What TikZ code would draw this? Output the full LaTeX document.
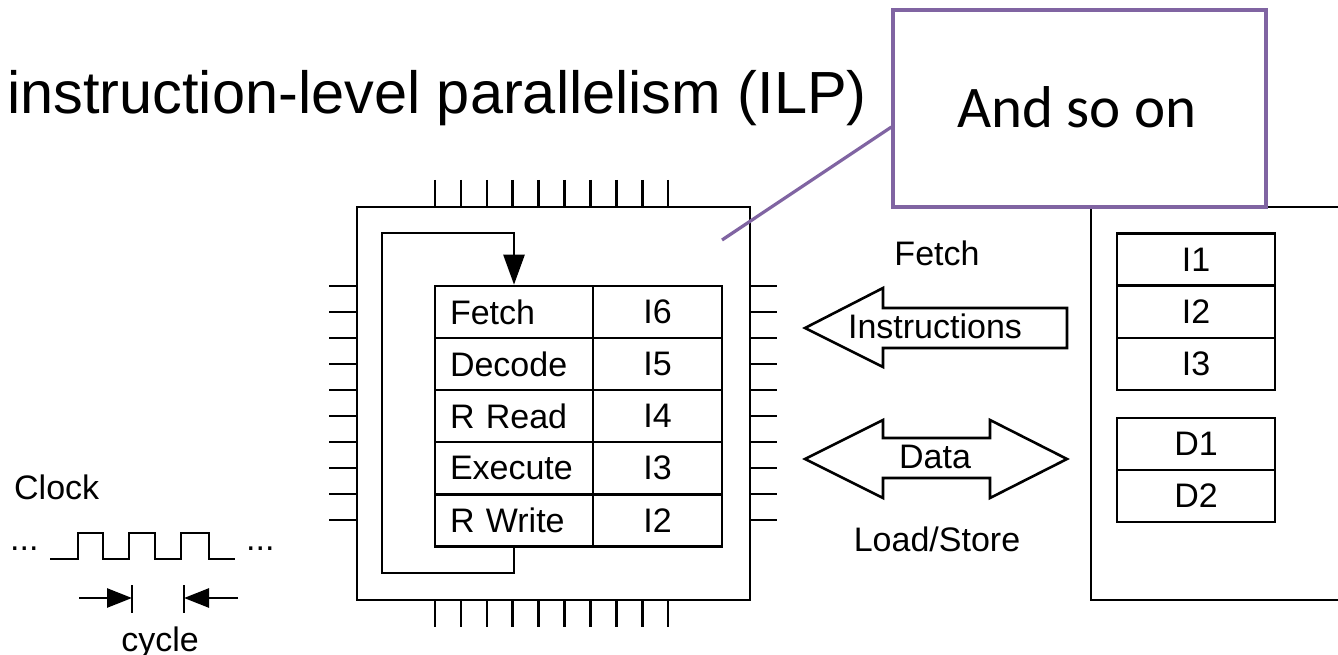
\documentclass[tikz,border=0pt]{standalone}
\usepackage{fontspec}
\setmainfont{Liberation Sans}
\newfontfamily\calib{Carlito}
\usetikzlibrary{arrows.meta}
\definecolor{callpurple}{RGB}{128,100,162}
\begin{document}
\begin{tikzpicture}[x=1pt,y=-1pt,
  ln/.style={line width=2.6pt},
  lbl/.style={inner sep=0pt, font=\fontsize{34}{40}\selectfont},
  cellL/.style={draw, line width=2.6pt, minimum height=52pt, text width=128pt, inner xsep=15pt, inner ysep=0pt, align=left, font=\fontsize{34}{40}\selectfont},
  cellR/.style={draw, line width=2.6pt, minimum height=52pt, minimum width=129pt, inner sep=0pt, font=\fontsize{34}{40}\selectfont},
  memcell/.style={draw, line width=2.6pt, minimum width=158pt, minimum height=52pt, inner sep=0pt, font=\fontsize{34}{40}\selectfont},
  pin/.style={line width=2.6pt},
  bigarrow/.style={draw, line width=2.6pt, fill=white, line join=miter},
  tick/.style={line width=2.6pt, -{Triangle[length=25pt,width=19pt]}}
]
\useasboundingbox (0,0) rectangle (1338,655);
\fill[white] (0,0) rectangle (1338,655);

% title
\node[inner sep=0pt, anchor=base west, font=\fontsize{59.5}{66}\selectfont] (title) at (7,114) {instruction-level parallelism (ILP)};

% chip
\node[draw, ln, minimum width=393pt, minimum height=393pt, inner sep=0pt] (chip) at (553.5,403.5) {};
\foreach \i in {0,...,9} {
  \draw[pin] ({435+25.9*\i},180) -- ({435+25.9*\i},207);
  \draw[pin] ({435+25.9*\i},600) -- ({435+25.9*\i},627);
  \draw[pin] (329,{286+26*\i}) -- (357,{286+26*\i});
  \draw[pin] (750,{286+26*\i}) -- (777,{286+26*\i});
}

% pipeline table
\node[cellL] (fe) at (514,312) {Fetch};
\node[cellR] (i6) at (657.5,312) {I6};
\node[cellL] (de) at (514,364) {Decode};
\node[cellR] (i5) at (657.5,364) {I5};
\node[cellL] (rr) at (514,416) {R Read};
\node[cellR] (i4) at (657.5,416) {I4};
\node[cellL] (ex) at (514,468) {Execute};
\node[cellR] (i3) at (657.5,468) {I3};
\node[cellL] (rw) at (514,520.5) {R Write};
\node[cellR] (i2) at (657.5,520.5) {I2};

% loop
\coordinate (lb) at (514,573);
\coordinate (lt) at (382,233);
\draw[ln, line join=miter, -{Triangle[length=30pt,width=21pt]}] (rw.south) -- (lb) -- (lt |- lb) -- (lt) -- (fe.north |- lt) -- (fe.north);

% block arrows
\draw[bigarrow] (805,328) -- (883,288) -- (883,308) -- (1067,308) -- (1067,348) -- (883,348) -- (883,367) -- cycle;
\draw[bigarrow] (805,459) -- (883,420) -- (883,438) -- (990,438) -- (990,420) -- (1067,459) -- (990,498) -- (990,478) -- (883,478) -- (883,498) -- cycle;
\node[lbl] (fetchl) at (937,253) {Fetch};
\node[lbl] (instr) at (935,326) {Instructions};
\node[lbl] (data) at (935,457) {Data};
\node[lbl, anchor=base] (ls) at (937,551) {Load/Store};

% memory
\draw[ln, line join=miter] (1338,207) -- (1091,207) -- (1091,600) -- (1338,600);
\node[memcell] (m1) at (1196,259.5) {I1};
\node[memcell] (m2) at (1196,312) {I2};
\node[memcell] (m3) at (1196,364) {I3};
\node[memcell] (d1) at (1196,444) {D1};
\node[memcell] (d2) at (1196,496) {D2};

% clock
\node[lbl, anchor=base west] (clk) at (14,499) {Clock};
\node[lbl, anchor=base west] (dl) at (10,550) {...};
\node[lbl, anchor=base west] (dr) at (246,550) {...};
\draw[ln, line join=miter] (50,559) -- (78,559) -- (78,533) -- (103,533) -- (103,559) -- (129,559) -- (129,533) -- (155,533) -- (155,559) -- (181,559) -- (181,533) -- (209,533) -- (209,559) -- (235,559);
\coordinate (bl) at (132,598);
\coordinate (br) at (184,598);
\draw[ln] (132,585) -- (132,613);
\draw[ln] (184,585) -- (184,613);
\draw[tick] (79,598) -- (bl);
\draw[tick] (238,598) -- (br);
\node[lbl, anchor=base] (cyc) at (160,651) {cycle};

% callout
\node[draw=callpurple, line width=3.2pt, fill=white, minimum width=373pt, minimum height=197pt, inner sep=0pt] (cb) at (1079.5,108.5) {};
\node[inner sep=0pt, anchor=base, font=\calib\fontsize{59}{66}\selectfont] (cbt) at (1077,128) {And so on};
\coordinate (cp) at (722,240);
\draw[callpurple, line width=3.2pt] (cp) -- ([yshift=-18.5pt]cb.west);
\end{tikzpicture}
\end{document}
